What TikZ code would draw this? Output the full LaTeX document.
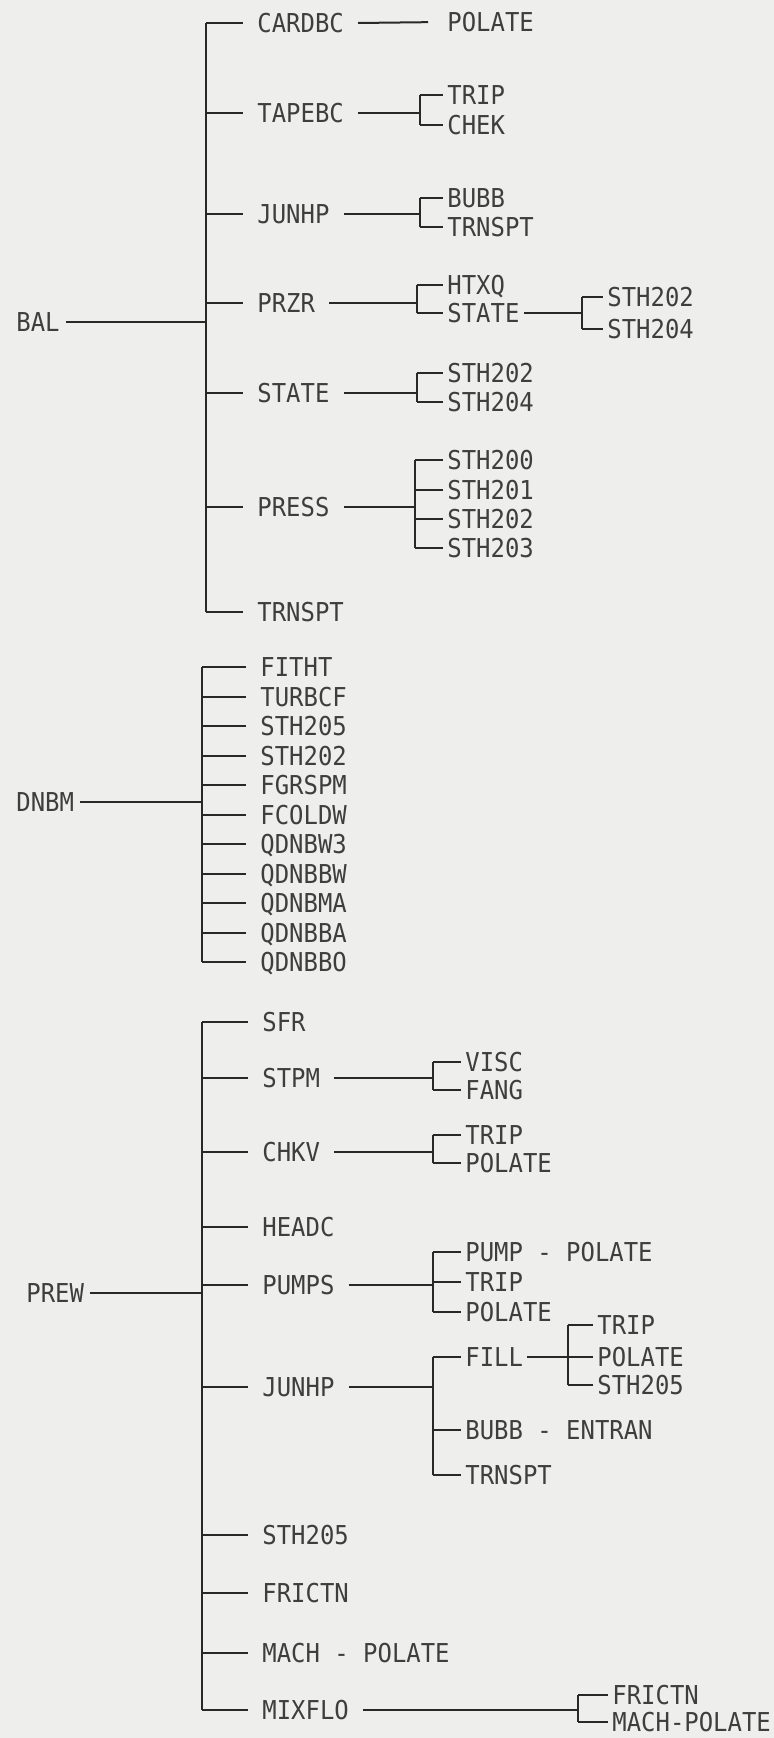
\documentclass[tikz,border=0pt]{standalone}
\usepackage{fontspec}
\newfontfamily\listfont[FakeStretch=0.92]{DejaVu Sans Mono}
\usetikzlibrary{calc}

\begin{document}
\begin{tikzpicture}[x=0.5pt,y=-0.5pt,
  call/.style={font=\listfont\fontsize{13}{13}\selectfont, text=inkgray, anchor=west,
    inner ysep=0pt, text height=9.5pt, text depth=0pt},
  root/.style={call, inner xsep=3pt},
  lvl/.style={call, inner xsep=7pt},
  sub/.style={call, inner xsep=2pt},
  wire/.style={draw=linegray, line width=1pt}]

% Scanned paper tones
\definecolor{paper}{RGB}{238,238,236}
\definecolor{inkgray}{RGB}{62,62,62}
\definecolor{linegray}{RGB}{40,40,40}

\useasboundingbox (0,0) rectangle (774,1738);
\fill[paper] (0,0) rectangle (774,1738);

% ---------------- BAL ----------------
\node[root] (bal) at (10,322) {BAL};
\coordinate (balbar) at (206,0);
\foreach \nm/\txt/\y in {cardbc/CARDBC/23, tapebc/TAPEBC/113, junhp/JUNHP/214,
    przr/PRZR/303, state/STATE/393, press/PRESS/507, trnspt/TRNSPT/612} {
  \node[lvl] (\nm) at (243,\y) {\txt};
  \draw[wire] (\nm.west -| balbar) -- (\nm.west);
}
\draw[wire] (cardbc.west -| balbar) -- (trnspt.west -| balbar);
\draw[wire] (bal.east) -- (bal.east -| balbar);

% CARDBC -- POLATE
\node[sub] (cardpol) at (443,22) {POLATE};
\draw[wire, shorten >=7.5pt] (cardbc.east) -- (cardpol.west);

% TAPEBC
\coordinate (tapebar) at (420,0);
\foreach \nm/\txt/\y in {tape1/TRIP/95, tape2/CHEK/125} {
  \node[sub] (\nm) at (443,\y) {\txt};
  \draw[wire] (\nm.west -| tapebar) -- (\nm.west);
}
\draw[wire] (tape1.west -| tapebar) -- (tape2.west -| tapebar);
\draw[wire] (tapebc.east) -- (tapebc.east -| tapebar);

% JUNHP
\coordinate (junbar) at (420,0);
\foreach \nm/\txt/\y in {jun1/BUBB/198, jun2/TRNSPT/227} {
  \node[sub] (\nm) at (443,\y) {\txt};
  \draw[wire] (\nm.west -| junbar) -- (\nm.west);
}
\draw[wire] (jun1.west -| junbar) -- (jun2.west -| junbar);
\draw[wire] (junhp.east) -- (junhp.east -| junbar);

% PRZR
\coordinate (przrbar) at (417,0);
\foreach \nm/\txt/\y in {przr1/HTXQ/285, przr2/STATE/313} {
  \node[sub] (\nm) at (443,\y) {\txt};
  \draw[wire] (\nm.west -| przrbar) -- (\nm.west);
}
\draw[wire] (przr1.west -| przrbar) -- (przr2.west -| przrbar);
\draw[wire] (przr.east) -- (przr.east -| przrbar);

% PRZR / STATE
\coordinate (pstbar) at (582,0);
\foreach \nm/\txt/\y in {pst1/STH202/297, pst2/STH204/329} {
  \node[sub] (\nm) at (603,\y) {\txt};
  \draw[wire] (\nm.west -| pstbar) -- (\nm.west);
}
\draw[wire] (pst1.west -| pstbar) -- (pst2.west -| pstbar);
\draw[wire] (przr2.east) -- (przr2.east -| pstbar);

% STATE
\coordinate (statebar) at (417,0);
\foreach \nm/\txt/\y in {st1/STH202/373, st2/STH204/402} {
  \node[sub] (\nm) at (443,\y) {\txt};
  \draw[wire] (\nm.west -| statebar) -- (\nm.west);
}
\draw[wire] (st1.west -| statebar) -- (st2.west -| statebar);
\draw[wire] (state.east) -- (state.east -| statebar);

% PRESS
\coordinate (pressbar) at (415,0);
\foreach \nm/\txt/\y in {pr1/STH200/460, pr2/STH201/490, pr3/STH202/519, pr4/STH203/548} {
  \node[sub] (\nm) at (443,\y) {\txt};
  \draw[wire] (\nm.west -| pressbar) -- (\nm.west);
}
\draw[wire] (pr1.west -| pressbar) -- (pr4.west -| pressbar);
\draw[wire] (press.east) -- (press.east -| pressbar);

% ---------------- DNBM ----------------
\node[root] (dnbm) at (10,802) {DNBM};
\coordinate (dnbar) at (202,0);
\foreach \txt [count=\i from 0] in {FITHT, TURBCF, STH205, STH202, FGRSPM, FCOLDW,
    QDNBW3, QDNBBW, QDNBMA, QDNBBA, QDNBBO} {
  \node[lvl] (dn\i) at (246,{667+29.5*\i}) {\txt};
  \draw[wire] (dn\i.west -| dnbar) -- (dn\i.west);
}
\draw[wire] (dn0.west -| dnbar) -- (dn10.west -| dnbar);
\draw[wire] (dnbm.east) -- (dnbm.east -| dnbar);

% ---------------- PREW ----------------
\node[root] (prew) at (20,1293) {PREW};
\coordinate (prewbar) at (202,0);
\foreach \nm/\txt/\y in {sfr/SFR/1022, stpm/STPM/1078, chkv/CHKV/1152, headc/HEADC/1227,
    pumps/PUMPS/1285, junhpb/JUNHP/1387, sthb/STH205/1535, frictn/FRICTN/1593,
    mach/MACH - POLATE/1653, mixflo/MIXFLO/1710} {
  \node[lvl] (\nm) at (248,\y) {\txt};
  \draw[wire] (\nm.west -| prewbar) -- (\nm.west);
}
\draw[wire] (sfr.west -| prewbar) -- (mixflo.west -| prewbar);
\draw[wire] (prew.east) -- (prew.east -| prewbar);

% STPM
\coordinate (stpmbar) at (433,0);
\foreach \nm/\txt/\y in {stp1/VISC/1062, stp2/FANG/1090} {
  \node[sub] (\nm) at (461,\y) {\txt};
  \draw[wire] (\nm.west -| stpmbar) -- (\nm.west);
}
\draw[wire] (stp1.west -| stpmbar) -- (stp2.west -| stpmbar);
\draw[wire] (stpm.east) -- (stpm.east -| stpmbar);

% CHKV
\coordinate (chkvbar) at (433,0);
\foreach \nm/\txt/\y in {chk1/TRIP/1135, chk2/POLATE/1163} {
  \node[sub] (\nm) at (461,\y) {\txt};
  \draw[wire] (\nm.west -| chkvbar) -- (\nm.west);
}
\draw[wire] (chk1.west -| chkvbar) -- (chk2.west -| chkvbar);
\draw[wire] (chkv.east) -- (chkv.east -| chkvbar);

% PUMPS
\coordinate (pumpbar) at (433,0);
\foreach \nm/\txt/\y in {pu1/PUMP - POLATE/1252, pu2/TRIP/1282, pu3/POLATE/1312} {
  \node[sub] (\nm) at (461,\y) {\txt};
  \draw[wire] (\nm.west -| pumpbar) -- (\nm.west);
}
\draw[wire] (pu1.west -| pumpbar) -- (pu3.west -| pumpbar);
\draw[wire] (pumps.east) -- (pumps.east -| pumpbar);

% JUNHP (PREW)
\coordinate (junbbar) at (433,0);
\foreach \nm/\txt/\y in {jb1/FILL/1357, jb2/BUBB - ENTRAN/1430, jb3/TRNSPT/1475} {
  \node[sub] (\nm) at (461,\y) {\txt};
  \draw[wire] (\nm.west -| junbbar) -- (\nm.west);
}
\draw[wire] (jb1.west -| junbbar) -- (jb3.west -| junbbar);
\draw[wire] (junhpb.east) -- (junhpb.east -| junbbar);

% FILL
\coordinate (fillbar) at (568,0);
\foreach \nm/\txt/\y in {fi1/TRIP/1325, fi2/POLATE/1357, fi3/STH205/1385} {
  \node[sub] (\nm) at (593,\y) {\txt};
  \draw[wire] (\nm.west -| fillbar) -- (\nm.west);
}
\draw[wire] (fi1.west -| fillbar) -- (fi3.west -| fillbar);
\draw[wire] (jb1.east) -- (jb1.east -| fillbar);

% MIXFLO
\coordinate (mixbar) at (578,0);
\foreach \nm/\txt/\y in {mx1/FRICTN/1695, mx2/MACH-POLATE/1722} {
  \node[sub] (\nm) at (608,\y) {\txt};
  \draw[wire] (\nm.west -| mixbar) -- (\nm.west);
}
\draw[wire] (mx1.west -| mixbar) -- (mx2.west -| mixbar);
\draw[wire] (mixflo.east) -- (mixflo.east -| mixbar);

\end{tikzpicture}
\end{document}
